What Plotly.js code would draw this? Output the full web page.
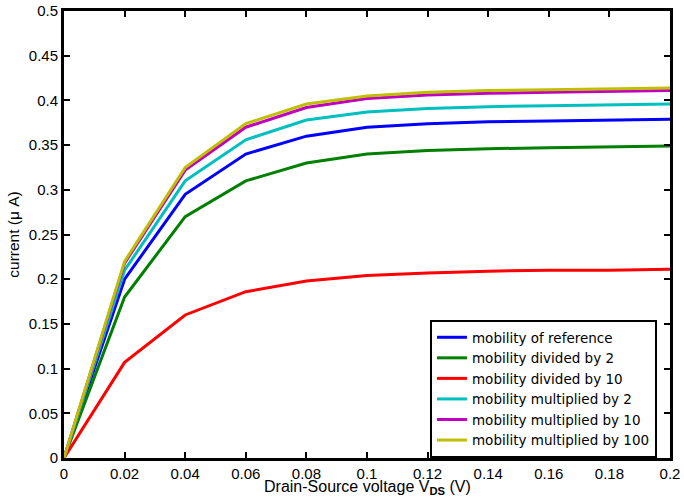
<!DOCTYPE html>
<html><head><meta charset="utf-8">
<script src="https://cdn.plot.ly/plotly-3.0.1.min.js"></script>
<style>body{margin:0;padding:0;background:#fff}#chart{width:684px;height:498px}</style>
</head><body><div id="chart"></div>
<script>
const vds = [0, 0.02, 0.04, 0.06, 0.08, 0.1, 0.12, 0.14, 0.16, 0.18, 0.2];
const names = ["mobility of reference","mobility divided by 2","mobility divided by 10","mobility multiplied by 2","mobility multiplied by 10","mobility multiplied by 100"];
const colors = ["#0000ff","#007f00","#ff0000","#00bfbf","#bf00bf","#bfbf00"];
const refI   = [0, 0.200, 0.295, 0.340, 0.360, 0.370, 0.374, 0.376, 0.377, 0.378, 0.379];
const div2I  = [0, 0.180, 0.270, 0.310, 0.330, 0.340, 0.344, 0.346, 0.347, 0.348, 0.349];
const div10I = [0, 0.107, 0.160, 0.186, 0.198, 0.204, 0.207, 0.209, 0.210, 0.210, 0.211];
const mul2I  = [0, 0.210, 0.310, 0.356, 0.378, 0.387, 0.391, 0.393, 0.394, 0.395, 0.396];
const mul10I = [0, 0.218, 0.322, 0.370, 0.392, 0.402, 0.406, 0.408, 0.409, 0.410, 0.411];
const mul100I= [0, 0.220, 0.325, 0.374, 0.396, 0.405, 0.409, 0.411, 0.412, 0.413, 0.414];
const series = [refI, div2I, div10I, mul2I, mul10I, mul100I];
const xTicks = [0,0.02,0.04,0.06,0.08,0.1,0.12,0.14,0.16,0.18,0.2];
const yTicks = [0,0.05,0.1,0.15,0.2,0.25,0.3,0.35,0.4,0.45,0.5];
const xTitle = 'Drain-Source voltage V<sub><b>DS</b></sub> (V)';
const yTitle = 'current (\u03bc A)';

const FONT = 'Liberation Sans, Arial, sans-serif';
const traces = series.map((s,i)=>({x:vds,y:s,type:'scatter',mode:'lines',name:names[i],line:{color:colors[i],width:3}}));
const axisCommon = {showline:true,mirror:'ticks',linecolor:'#000',linewidth:3,ticks:'inside',ticklen:6,tickwidth:2,tickcolor:'#000',showgrid:false,zeroline:false,tickfont:{family:FONT,size:15,color:'#000'}};
const layout = {
  width:684,height:498,margin:{l:64,r:14,t:11,b:40},
  paper_bgcolor:'#fff',plot_bgcolor:'#fff',
  font:{family:FONT,color:'#000'},
  xaxis:Object.assign({},axisCommon,{range:[0,0.2],tickvals:xTicks,ticktext:xTicks.map(String),ticklabelstandoff:0}),
  yaxis:Object.assign({},axisCommon,{range:[0,0.5],tickvals:yTicks,ticktext:yTicks.map(String),
    title:{text:yTitle,font:{size:15.5,color:'#000'},standoff:6}}),
  annotations:[{text:xTitle,xref:'paper',yref:'paper',x:0.5,y:-0.066,xanchor:'center',yanchor:'middle',showarrow:false,font:{family:FONT,size:16,color:'#000'}}],
  showlegend:true,
  legend:{x:0.9785,y:0.3087,xanchor:'right',yanchor:'top',bgcolor:'#fff',bordercolor:'#000',borderwidth:2,
    font:{family:'DejaVu Sans, sans-serif',size:13.5,color:'#000'},tracegroupgap:0,itemwidth:30}
};
Plotly.newPlot('chart',traces,layout,{displayModeBar:false,staticPlot:true});
</script></body></html>
